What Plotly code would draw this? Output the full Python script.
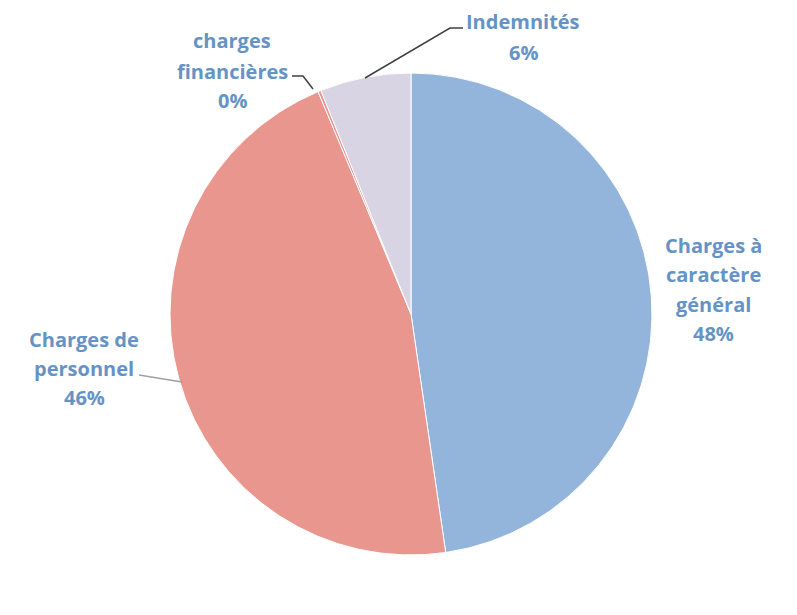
import plotly.graph_objects as go

labels = ["Charges à caractère général", "Charges de personnel", "charges financières", "Indemnités"]
values = [47.7, 46.0, 0.2, 6.1]
colors = ["#93b5dc", "#e9968f", "#e9968f", "#d9d4e4"]
display = [["Charges à", "caractère", "général", "48%"],
           ["Charges de", "personnel", "46%"],
           ["charges", "financières", "0%"],
           ["Indemnités", "6%"]]

W, H = 797, 615
cx, cy, r = 411, 314, 241

fig = go.Figure(go.Pie(
    labels=labels, values=values, sort=False, direction="clockwise", rotation=0,
    marker=dict(colors=colors, line=dict(color="white", width=1)),
    textinfo="none", hoverinfo="label+percent", showlegend=False,
    domain=dict(x=[(cx - r) / W, (cx + r) / W], y=[(H - cy - r) / H, (H - cy + r) / H]),
))

def px(x, y):
    return x / W, 1 - y / H

font = dict(family="Open Sans", size=20, color="#6593c5")
# label anchor: (center x, first line y, line step)
pos = [(713, 245, 29.5), (84, 339, 29.5), (232, 41, 30), (523, 22, 30)]
for lines, (x, y0, step) in zip(display, pos):
    for i, line in enumerate(lines):
        ax_, ay_ = px(x, y0 + i * step)
        fig.add_annotation(x=ax_, y=ay_, xref="paper", yref="paper", text="<b>" + line + "</b>",
                           showarrow=False, font=font, align="center",
                           xanchor="center", yanchor="middle")

leaders = [
    ([(365, 78), (450, 28), (463, 28)], "#404040"),
    ([(292, 76), (303, 76), (313, 89)], "#404040"),
    ([(139, 375), (182, 382)], "#a0a0a0"),
]
for pts, col in leaders:
    path = "M " + " L ".join(f"{px(x, y)[0]},{px(x, y)[1]}" for x, y in pts)
    fig.add_shape(type="path", path=path, xref="paper", yref="paper",
                  line=dict(color=col, width=1.5))

fig.update_layout(width=W, height=H, margin=dict(l=0, r=0, t=0, b=0),
                  paper_bgcolor="white", plot_bgcolor="white")
fig.write_html("out.html", config={"displayModeBar": False},
               post_script="document.body.style.margin='0';")
